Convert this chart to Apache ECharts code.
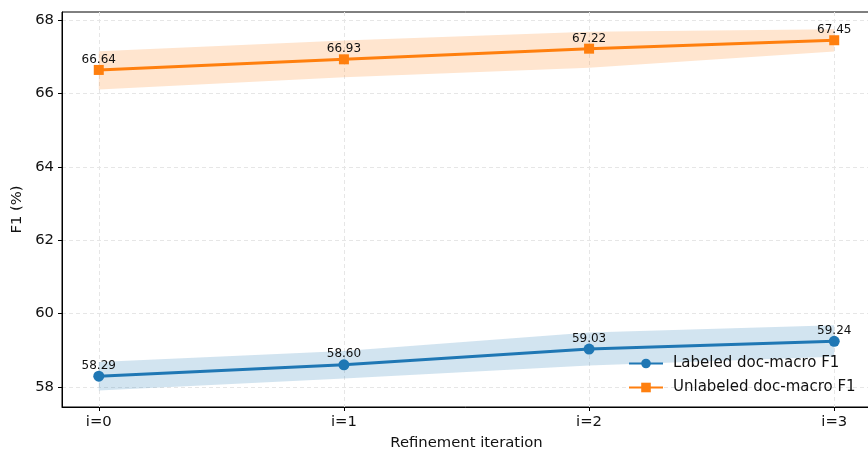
<!DOCTYPE html>
<html>
<head>
<meta charset="utf-8">
<script src="https://cdn.jsdelivr.net/npm/echarts@6/dist/echarts.min.js"></script>
<style>html,body{margin:0;padding:0;background:#fff}#c{width:868px;height:452px}</style>
</head>
<body>
<div id="c"></div>
<script>
const categories = ['i=0', 'i=1', 'i=2', 'i=3'];
const labeled = [58.29, 58.60, 59.03, 59.24];
const labeledLow = [57.90, 58.23, 58.58, 58.82];
const labeledHigh = [58.68, 58.98, 59.48, 59.68];
const unlabeled = [66.64, 66.93, 67.22, 67.45];
const unlabeledLow = [66.11, 66.44, 66.70, 67.14];
const unlabeledHigh = [67.15, 67.44, 67.68, 67.75];
const yTicks = [58, 60, 62, 64, 66, 68];
const xTicks = categories.map((c, i) => i);

const FONT = 'DejaVu Sans';
const pts = arr => arr.map((v, i) => [i, v]);

const bandSeries = (lo, hi, color) => ({
  type: 'custom', silent: true, z: 1,
  data: lo.map((v, i) => [i, v, hi[i]]),
  encode: { x: 0, y: [1, 2] },
  renderItem: (params, api) => {
    if (params.dataIndex !== 0) return null;
    const top = hi.map((v, i) => api.coord([i, v]));
    const bot = lo.map((v, i) => api.coord([i, v])).reverse();
    return {
      type: 'polygon',
      shape: { points: top.concat(bot) },
      style: { fill: color }
    };
  }
});

const chart = echarts.init(document.getElementById('c'), null, { renderer: 'canvas' });
chart.setOption({
  animation: false,
  backgroundColor: '#fff',
  textStyle: { fontFamily: FONT },
  grid: { left: 62, top: 12, right: -3, bottom: 45, outerBoundsMode: 'none', containLabel: false,
    show: true, borderColor: '#000', borderWidth: 1, backgroundColor: 'transparent' },
  legend: {
    data: [
      { name: 'Labeled doc-macro F1' },
      { name: 'Unlabeled doc-macro F1' }
    ],
    orient: 'vertical', left: 623, top: 351, itemWidth: 34, itemHeight: 12, itemGap: 9,
    textStyle: { fontFamily: FONT, fontSize: 15, color: '#111', padding: [0, 0, 0, 5] }
  },
  xAxis: {
    type: 'value', min: -0.15, max: 3.15,
    name: 'Refinement iteration', nameLocation: 'middle', nameGap: 29,
    nameTextStyle: { fontFamily: FONT, fontSize: 14.8, color: '#111' },
    axisLine: { show: true, onZero: false, lineStyle: { color: '#000', width: 1 } },
    axisTick: { show: true, length: 4, customValues: xTicks, lineStyle: { color: '#000' } },
    axisLabel: { customValues: xTicks, margin: 8, fontFamily: FONT, fontSize: 14.8, color: '#111',
      formatter: v => categories[Math.round(v)] },
    splitLine: { show: true, lineStyle: { color: '#e6e6e6', type: [4, 3], width: 1 } }
  },
  yAxis: {
    type: 'value', min: 57.45, max: 68.22,
    name: 'F1 (%)', nameLocation: 'middle', nameGap: 36, nameRotate: 90,
    nameTextStyle: { fontFamily: FONT, fontSize: 14.8, color: '#111' },
    axisLine: { show: true, onZero: false, lineStyle: { color: '#000', width: 1 } },
    axisTick: { show: true, length: 4, customValues: yTicks, lineStyle: { color: '#000' } },
    axisLabel: { customValues: yTicks, margin: 8, fontFamily: FONT, fontSize: 14.8, color: '#111' },
    splitLine: { show: true, lineStyle: { color: '#e6e6e6', type: [4, 3], width: 1 } }
  },
  series: [
    bandSeries(labeledLow, labeledHigh, 'rgba(31,119,180,0.2)'),
    bandSeries(unlabeledLow, unlabeledHigh, 'rgba(255,127,14,0.2)'),
    { name: 'Labeled doc-macro F1', type: 'line', data: pts(labeled), z: 5,
      symbol: 'circle', symbolSize: 11, itemStyle: { color: '#1f77b4' },
      lineStyle: { color: '#1f77b4', width: 3 },
      label: { show: true, position: 'top', distance: -1, fontFamily: FONT, fontSize: 12, color: '#111',
        formatter: p => p.value[1].toFixed(2) } },
    { name: 'Unlabeled doc-macro F1', type: 'line', data: pts(unlabeled), z: 5,
      symbol: 'rect', symbolSize: 10, itemStyle: { color: '#ff7f0e' },
      lineStyle: { color: '#ff7f0e', width: 3 },
      label: { show: true, position: 'top', distance: -1, fontFamily: FONT, fontSize: 12, color: '#111',
        formatter: p => p.value[1].toFixed(2) } }
  ]
});
</script>
</body>
</html>
